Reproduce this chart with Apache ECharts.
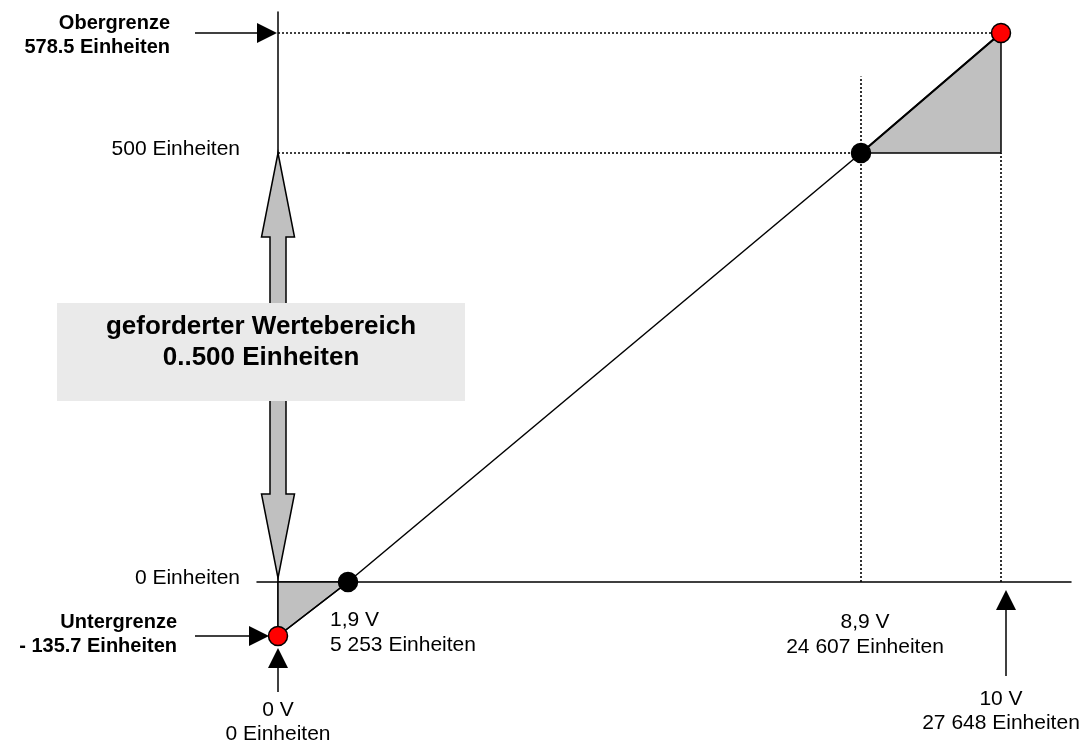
<!DOCTYPE html>
<html><head><meta charset="utf-8">
<script src="https://cdn.jsdelivr.net/npm/echarts@6/dist/echarts.min.js"></script>
<style>html,body{margin:0;padding:0;background:#fff}#c{width:1088px;height:744px}</style>
</head><body><div id="c"></div>
<script>
// ---- data ----
const volts = [0, 1.9, 8.9, 10];            // input voltage (V)
const rawUnits = [0, 5253, 24607, 27648];   // raw converter units
const levels = [-135.7, 0, 500, 578.5];     // scaled units
const guideTop = 550;                       // upper end of 8,9 V guide line
const boundNames = ['Untergrenze', 'Obergrenze'];
const rangeTitle = 'geforderter Wertebereich';
const unitWord = 'Einheiten';

// ---- layout (piecewise schematic axes: one grid per segment) ----
const FONT = '"Liberation Sans", Arial, Helvetica, sans-serif';
const colPx = [278, 348, 861, 1001];
const rowPx = [636, 582, 153, 33];

const fmtU = n => String(n).replace(/\B(?=(\d{3})+(?!\d))/g, ' ') + ' ' + unitWord;
const fmtV = v => String(v).replace('.', ',') + ' V';
const fmtL = v => (v < 0 ? '- ' + Math.abs(v) : String(v)) + ' ' + unitWord;

function gi(i, j) { return j * 3 + i; }
const grids = [], xAxes = [], yAxes = [];
for (let j = 0; j < 3; j++) for (let i = 0; i < 3; i++) {
  grids.push({left: colPx[i], top: rowPx[j + 1], width: colPx[i + 1] - colPx[i],
    height: rowPx[j] - rowPx[j + 1], outerBoundsMode: 'none', containLabel: false});
  xAxes.push({gridIndex: gi(i, j), type: 'value', min: volts[i], max: volts[i + 1], show: false});
  yAxes.push({gridIndex: gi(i, j), type: 'value', min: levels[j], max: levels[j + 1], show: false});
}
// y labels 0 / 500 Einheiten
Object.assign(yAxes[gi(0, 1)], {
  show: true, interval: levels[2] - levels[1],
  axisLine: {show: false}, axisTick: {show: false}, splitLine: {show: false},
  axisLabel: {formatter: v => v + ' ' + unitWord, margin: 38, fontSize: 21, color: '#000',
    fontFamily: FONT, showMinLabel: true, showMaxLabel: true, verticalAlign: 'bottom', lineHeight: 8}
});
// frame axis lines
const hide = {show: false};
const axLine = {show: true, onZero: false, lineStyle: {color: '#000', width: 1.5}};
grids.push({left: 257, top: rowPx[1] - 10, width: 814, height: 10, outerBoundsMode: 'none', containLabel: false});
xAxes.push({gridIndex: 9, type: 'value', min: 0, max: 1, axisLine: axLine, axisTick: hide, axisLabel: hide, splitLine: hide});
yAxes.push({gridIndex: 9, type: 'value', min: 0, max: 1, show: false});
grids.push({left: colPx[0], top: 12, width: 10, height: rowPx[0] - 12, outerBoundsMode: 'none', containLabel: false});
xAxes.push({gridIndex: 10, type: 'value', min: 0, max: 1, show: false});
yAxes.push({gridIndex: 10, type: 'value', min: 0, max: 1, axisLine: axLine, axisTick: hide, axisLabel: hide, splitLine: hide});

const series = [];
function line(i, j, pts, opts) {
  series.push(Object.assign({type: 'line', xAxisIndex: gi(i, j), yAxisIndex: gi(i, j), data: pts,
    symbol: 'none', clip: false, silent: true, animation: false,
    lineStyle: {color: '#000', width: 1.5}, z: 2}, opts || {}));
}
const dotted = {lineStyle: {color: '#000', width: 1.6, type: [2, 2]}, z: 1};
for (let i = 0; i < 3; i++) line(i, 2, [[volts[i], levels[3]], [volts[i + 1], levels[3]]], dotted);
for (let i = 0; i < 2; i++) line(i, 2, [[volts[i], levels[2]], [volts[i + 1], levels[2]]], dotted);
line(2, 1, [[volts[2], levels[1]], [volts[2], levels[2]]], dotted);
line(2, 2, [[volts[2], levels[2]], [volts[2], guideTop]], dotted);
line(2, 1, [[volts[3], levels[1]], [volts[3], levels[2]]], dotted);

function tri(i, j, pts) {
  series.push({type: 'custom', xAxisIndex: gi(i, j), yAxisIndex: gi(i, j), data: [pts.flat()],
    z: 1, silent: true, animation: false, clip: false,
    renderItem: (p, api) => {
      const P = [];
      for (let k = 0; k < 3; k++) P.push(api.coord([api.value(2 * k), api.value(2 * k + 1)]));
      return {type: 'polygon', shape: {points: P}, style: {fill: '#c0c0c0', stroke: '#000', lineWidth: 1.5}};
    }});
}
tri(0, 0, [[volts[0], levels[1]], [volts[1], levels[1]], [volts[0], levels[0]]]);
tri(2, 2, [[volts[2], levels[2]], [volts[3], levels[2]], [volts[3], levels[3]]]);

// characteristic line
for (let k = 0; k < 3; k++) line(k, k, [[volts[k], levels[k]], [volts[k + 1], levels[k + 1]]], k === 2 ? {lineStyle: {color: '#000', width: 2.2}} : null);

// big double arrow for required range
series.push({type: 'custom', xAxisIndex: gi(0, 1), yAxisIndex: gi(0, 1), data: [[volts[0], levels[1], levels[2]]],
  z: 3, silent: true, animation: false, clip: false,
  renderItem: (p, api) => {
    const b = api.coord([api.value(0), api.value(1)]);
    const t = api.coord([api.value(0), api.value(2)]);
    const cx = t[0], ty = t[1], by = b[1] - 4, hw = 16.5, sw = 8, hl = 84;
    return {type: 'polygon', shape: {points: [[cx, ty], [cx + hw, ty + hl], [cx + sw, ty + hl], [cx + sw, by - hl],
      [cx + hw, by - hl], [cx, by], [cx - hw, by - hl], [cx - sw, by - hl], [cx - sw, ty + hl], [cx - hw, ty + hl]]},
      style: {fill: '#c0c0c0', stroke: '#000', lineWidth: 1.5}};
  }});

function dots(i, j, pts, colors) {
  series.push({type: 'scatter', xAxisIndex: gi(i, j), yAxisIndex: gi(i, j), clip: false, symbolSize: 19,
    z: 5, silent: true, animation: false,
    data: pts.map((p, k) => ({value: p, itemStyle: {color: colors[k], borderColor: '#000', borderWidth: 1.5, opacity: 1}}))});
}
dots(0, 0, [[volts[0], levels[0]]], ['#ff0000']);
dots(1, 1, [[volts[1], levels[1]]], ['#000000']);
dots(2, 2, [[volts[2], levels[2]], [volts[3], levels[3]]], ['#000000', '#ff0000']);

const chart = echarts.init(document.getElementById('c'));
chart.setOption({animation: false, backgroundColor: '#fff', grid: grids, xAxis: xAxes, yAxis: yAxes, series: series});

// ---- annotations anchored on converted data points ----
const px = (k, m) => chart.convertToPixel({gridIndex: gi(Math.min(k, 2), Math.min(m, 2))}, [volts[k], levels[m]]);
const P0 = px(0, 0), P1 = px(1, 1), P2 = px(2, 2), P3 = px(3, 3), A0 = px(0, 1);

function txt(x, y, text, align, bold, size, lh) {
  return {type: 'text', x: x, y: y, z: 20, silent: true,
    style: {text: text, fill: '#000', align: align, textAlign: align, verticalAlign: 'top', textVerticalAlign: 'top',
      font: (bold ? 'bold ' : '') + size + 'px ' + FONT, lineHeight: lh}};
}
function arrow(x1, y1, x2, y2) {
  const dx = x2 - x1, dy = y2 - y1, L = Math.hypot(dx, dy), ux = dx / L, uy = dy / L;
  const hl = 20, hw = 10, bx = x2 - ux * hl, by = y2 - uy * hl;
  return [
    {type: 'line', z: 15, silent: true, shape: {x1: x1, y1: y1, x2: bx, y2: by}, style: {stroke: '#000', lineWidth: 1.5}},
    {type: 'polygon', z: 15, silent: true, shape: {points: [[x2, y2], [bx - uy * hw, by + ux * hw], [bx + uy * hw, by - ux * hw]]},
      style: {fill: '#000'}}
  ];
}
const g = [];
g.push(txt(P0[0], P0[1] + 62, fmtV(volts[0]) + '\n' + fmtU(rawUnits[0]), 'center', false, 21, 24));
g.push(txt(P1[0] - 18, P1[1] + 26, fmtV(volts[1]) + '\n' + fmtU(rawUnits[1]), 'left', false, 21, 25));
g.push(txt(P2[0] + 4, A0[1] + 28, fmtV(volts[2]) + '\n' + fmtU(rawUnits[2]), 'center', false, 21, 25));
g.push(txt(P3[0], A0[1] + 105, fmtV(volts[3]) + '\n' + fmtU(rawUnits[3]), 'center', false, 21, 24));
g.push(txt(P0[0] - 108, P3[1] - 22, boundNames[1] + '\n' + fmtL(levels[3]), 'right', true, 20, 24));
g.push(txt(P0[0] - 101, P0[1] - 26, boundNames[0] + '\n' + fmtL(levels[0]), 'right', true, 20, 24));
g.push(...arrow(195, P3[1], P0[0] - 1, P3[1]));
g.push(...arrow(195, P0[1], P0[0] - 9, P0[1]));
g.push(...arrow(P0[0], P0[1] + 56, P0[0], P0[1] + 12));
g.push(...arrow(P3[0] + 5, A0[1] + 94, P3[0] + 5, A0[1] + 8));
// range box
g.push({type: 'rect', z: 18, silent: true, shape: {x: 57, y: 303, width: 408, height: 98}, style: {fill: '#eaeaea'}});
g.push(txt(261, 311, rangeTitle + '\n' + levels[1] + '..' + levels[2] + ' ' + unitWord, 'center', true, 26, 31));
chart.setOption({graphic: g});
</script></body></html>
